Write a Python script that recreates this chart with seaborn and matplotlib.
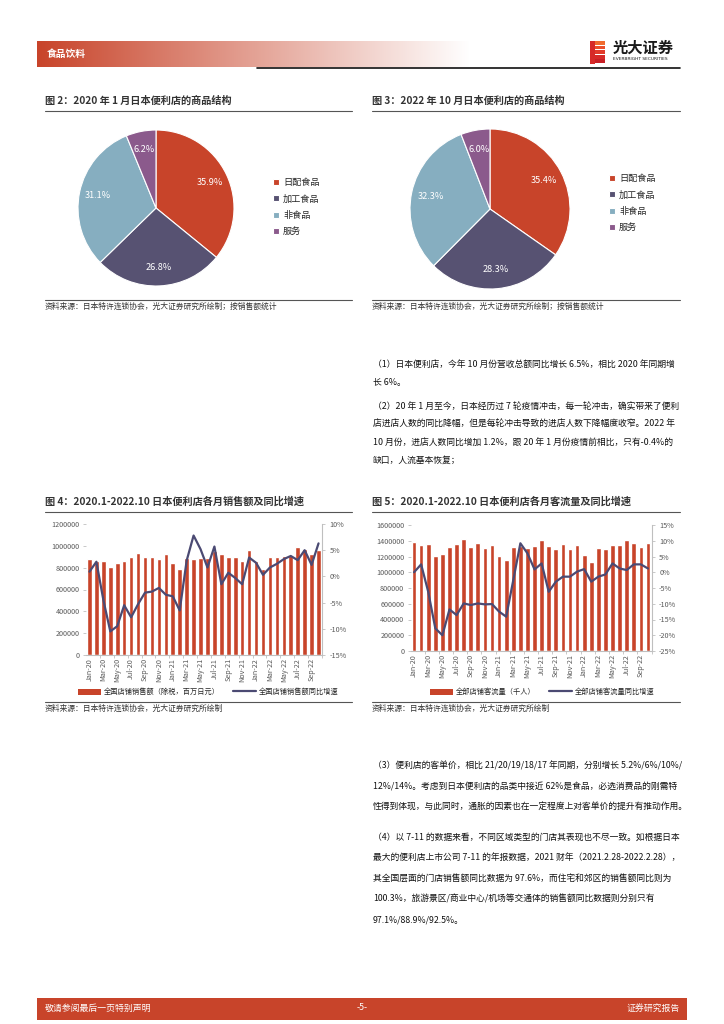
import matplotlib
matplotlib.use('Agg')
import matplotlib.pyplot as plt
import seaborn as sns
import numpy as np
import pandas as pd
from matplotlib.patches import Rectangle, Patch
from matplotlib.lines import Line2D

# ---- data -------------------------------------------------------------
pie_labels = ['日配食品', '加工食品', '非食品', '服务']
share_2020_01 = [35.9, 26.8, 31.1, 6.2]
share_2022_10 = [35.4, 28.3, 32.3, 6.0]

months = ['Jan-20', 'Feb-20', 'Mar-20', 'Apr-20', 'May-20', 'Jun-20', 'Jul-20', 'Aug-20',
          'Sep-20', 'Oct-20', 'Nov-20', 'Dec-20', 'Jan-21', 'Feb-21', 'Mar-21', 'Apr-21',
          'May-21', 'Jun-21', 'Jul-21', 'Aug-21', 'Sep-21', 'Oct-21', 'Nov-21', 'Dec-21',
          'Jan-22', 'Feb-22', 'Mar-22', 'Apr-22', 'May-22', 'Jun-22', 'Jul-22', 'Aug-22',
          'Sep-22', 'Oct-22']

# 全国店铺销售额（百万日元）
sales = [880000, 860000, 865000, 810000, 840000, 865000, 900000, 935000,
         895000, 900000, 880000, 925000, 840000, 790000, 885000, 875000,
         885000, 885000, 950000, 925000, 900000, 900000, 865000, 965000,
         865000, 790000, 900000, 895000, 910000, 918000, 985000, 975000,
         925000, 958000]
# 销售额同比增速（%）
sales_yoy = [0.9, 2.8, -4.5, -10.5, -9.5, -5.5, -7.8, -5.3,
             -3.1, -2.9, -2.2, -3.5, -3.8, -6.5, 3.0, 7.8,
             5.2, 1.7, 5.7, -1.5, 0.7, -0.3, -1.5, 3.6,
             2.6, 0.3, 1.7, 2.4, 3.3, 3.9, 3.1, 5.0,
             2.2, 6.3]

# 全部店铺客流量（千人）
traffic = [1380000, 1346000, 1363000, 1202000, 1228000, 1325000, 1363000, 1422000,
           1325000, 1371000, 1308000, 1346000, 1202000, 1160000, 1325000, 1338000,
           1304000, 1333000, 1405000, 1333000, 1290000, 1359000, 1300000, 1346000,
           1219000, 1126000, 1308000, 1300000, 1342000, 1346000, 1410000, 1371000,
           1325000, 1371000]
# 客流量同比增速（%）
traffic_yoy = [0.0, 2.5, -6.2, -17.8, -20.0, -11.8, -13.6, -9.9,
               -10.4, -9.9, -10.2, -10.1, -12.5, -14.1, -2.5, 9.2,
               6.0, 0.9, 2.8, -6.2, -3.0, -1.4, -1.4, 0.2,
               1.0, -3.0, -1.4, -0.7, 2.8, 1.2, 0.7, 2.5,
               2.5, 1.2]

# ---- style ------------------------------------------------------------
sns.set_theme(style='white')
plt.rcParams['font.family'] = ['Noto Sans CJK SC', 'DejaVu Sans']
plt.rcParams['axes.unicode_minus'] = False

W, H = 724, 1024
RED = '#C8442A'
NAVY = '#4B4A73'
PIE_COLORS = ['#C8442A', '#575272', '#86AEC0', '#8B5A8C']
GRAY = '#595959'
LIGHT = '#BFBFBF'

fig = plt.figure(figsize=(W / 100, H / 100), dpi=100)


def box(x, y, w, h):
    # pixel box measured from the top-left of the page
    return [x / W, 1 - (y + h) / H, w / W, h / H]


def txt(x, y, s, **kw):
    kw.setdefault('va', 'center')
    fig.text(x / W, 1 - y / H, s, **kw)


def hline(x0, x1, y, color='#404040', lw=0.8):
    fig.add_artist(Line2D([x0 / W, x1 / W], [1 - y / H] * 2, color=color, lw=lw))


# ---- header -----------------------------------------------------------
hax = fig.add_axes(box(37, 41, 433, 26))
base = np.array(matplotlib.colors.to_rgb(RED))
t = np.linspace(0, 1, 400)[None, :, None]
grad = base * (1 - t) + t
hax.imshow(grad, aspect='auto', extent=[0, 1, 0, 1])
hax.axis('off')
txt(47, 54, '食品饮料', color='white', fontsize=7, fontweight='bold')
hline(257, 680, 68, color='#111111', lw=1.2)

# logo
for i, c in enumerate(['#F06A2E', '#EB4F2B', '#E23A2A', '#D62A28', '#C81F25']):
    fig.add_artist(Rectangle((590 / W, 1 - (41 + i * 4.6 + 3.8) / H), 15 / W, 3.8 / H,
                             transform=fig.transFigure, color=c, lw=0))
fig.add_artist(Rectangle((590 / W, 1 - 64 / H), 5 / W, 23 / H,
                         transform=fig.transFigure, color='#D62A28', lw=0))
txt(613, 48, '光大证券', fontsize=11, fontweight='bold', color='#1a1a1a')
txt(613, 59.5, 'EVERBRIGHT SECURITIES', fontsize=3.2, color='#1a1a1a', family=['DejaVu Sans'])


# ---- figure titles / sources -----------------------------------------
def frame(x0, x1, y_title, y_bottom, title, source):
    txt(x0, y_title, title, fontsize=7.3, fontweight='bold', color='#333333')
    hline(x0, x1, y_title + 10, color='#555555', lw=0.8)
    hline(x0, x1, y_bottom, color='#555555', lw=0.8)
    txt(x0, y_bottom + 7, source, fontsize=5.6, color='#333333')


frame(45, 352, 101, 300, '图 2：2020 年 1 月日本便利店的商品结构',
      '资料来源：日本特许连锁协会，光大证券研究所绘制；按销售额统计')
frame(372, 680, 101, 300, '图 3：2022 年 10 月日本便利店的商品结构',
      '资料来源：日本特许连锁协会，光大证券研究所绘制；按销售额统计')
frame(45, 352, 502, 702, '图 4：2020.1-2022.10 日本便利店各月销售额及同比增速',
      '资料来源：日本特许连锁协会，光大证券研究所绘制')
frame(372, 680, 502, 702, '图 5：2020.1-2022.10 日本便利店各月客流量及同比增速',
      '资料来源：日本特许连锁协会，光大证券研究所绘制')


# ---- pies -------------------------------------------------------------
def draw_pie(rect, values, legend_xy):
    ax = fig.add_axes(box(*rect))
    it = iter(values)
    wedges, _, autotexts = ax.pie(
        values, colors=PIE_COLORS, startangle=90, counterclock=False,
        autopct=lambda p: f'{next(it):.1f}%', pctdistance=0.76,
        textprops=dict(color='white', fontsize=6.6),
        wedgeprops=dict(edgecolor='white', linewidth=0.8))
    ax.set_xlim(-1, 1)
    ax.set_ylim(-1, 1)
    ax.set_aspect('equal')
    ax.legend(wedges, pie_labels, loc='upper left',
              bbox_to_anchor=(legend_xy[0] / W, 1 - legend_xy[1] / H),
              bbox_transform=fig.transFigure, frameon=False, fontsize=6.6,
              handlelength=0.6, handleheight=0.6, labelspacing=0.8,
              handletextpad=0.5, borderpad=0, borderaxespad=0)


draw_pie((78, 130, 156, 156), share_2020_01, (273, 178))
draw_pie((410, 129, 160, 160), share_2022_10, (609, 174))


# ---- bar + line combos ------------------------------------------------
def draw_combo(rect, values, yoy, ymax, rlim, labels, leg_x):
    ax = fig.add_axes(box(*rect))
    df = pd.DataFrame({'month': months, 'value': values, 'yoy': yoy})
    sns.barplot(data=df, x='month', y='value', color=RED, saturation=1,
                width=0.66, ax=ax)
    n = len(months)
    ax.set_xlim(-0.5, n - 0.5)
    ax.set_ylim(0, ymax)
    yt = np.arange(0, ymax + 1, 200000)
    ax.set_yticks(yt)
    ax.set_yticklabels([f'{v:d}' for v in yt])
    ax.set_xticks(range(0, n, 2))
    ax.set_xticklabels(months[::2], rotation=90)
    ax.set_xticks(np.arange(1.5, n, 2), minor=True)
    ax.set_xlabel('')
    ax.set_ylabel('')
    ax.tick_params(axis='y', labelsize=5.2, colors=LIGHT, labelcolor=GRAY,
                   length=2.5, width=0.6, left=True, pad=2)
    ax.tick_params(axis='x', which='major', labelsize=5.2, labelcolor=GRAY,
                   length=0, pad=2)
    ax.tick_params(axis='x', which='minor', length=2.5, width=0.6, colors=LIGHT,
                   bottom=True)
    for s in ['left', 'top', 'right']:
        ax.spines[s].set_visible(False)
    ax.spines['bottom'].set_color(LIGHT)
    ax.spines['bottom'].set_linewidth(0.8)

    ax2 = ax.twinx()
    sns.lineplot(x=np.arange(n), y=df['yoy'], color=NAVY, lw=1.6, ax=ax2)
    ax2.set_ylim(*rlim)
    rt = np.arange(rlim[0], rlim[1] + 1, 5)
    ax2.set_yticks(rt)
    ax2.set_yticklabels([f'{v:d}%' for v in rt])
    ax2.set_ylabel('')
    ax2.tick_params(axis='y', labelsize=5.2, colors=LIGHT, labelcolor=GRAY,
                    length=2.5, width=0.6, right=True, pad=3)
    for s in ['left', 'top', 'bottom']:
        ax2.spines[s].set_visible(False)
    ax2.spines['right'].set_color(LIGHT)
    ax2.spines['right'].set_linewidth(0.8)
    ax2.grid(False)
    ax.grid(False)

    handles = [Patch(facecolor=RED, edgecolor='none'),
               Line2D([0], [0], color=NAVY, lw=1.6)]
    ax.legend(handles, labels, loc='center left', ncol=2,
              bbox_to_anchor=(leg_x / W, 1 - 692 / H), bbox_transform=fig.transFigure,
              frameon=False, fontsize=5.2, handlelength=3.2, handleheight=0.9,
              handletextpad=0.4, columnspacing=1.8, borderpad=0, borderaxespad=0)


draw_combo((86, 524, 236, 131), sales, sales_yoy, 1200000, (-15, 10),
           ['全国店铺销售额（除税，百万日元）', '全国店铺销售额同比增速'], 78)
draw_combo((410.5, 525, 241, 126), traffic, traffic_yoy, 1600000, (-25, 15),
           ['全部店铺客流量（千人）', '全部店铺客流量同比增速'], 430)

# ---- body text --------------------------------------------------------
para_top = [
    (364, '（1）日本便利店，今年 10 月份营收总额同比增长 6.5%，相比 2020 年同期增'),
    (382, '长 6%。'),
    (406, '（2）20 年 1 月至今，日本经历过 7 轮疫情冲击，每一轮冲击，确实带来了便利'),
    (424, '店进店人数的同比降幅，但是每轮冲击导致的进店人数下降幅度收窄。2022 年'),
    (442, '10 月份，进店人数同比增加 1.2%，跟 20 年 1 月份疫情前相比，只有-0.4%的'),
    (460, '缺口，人流基本恢复；'),
]
para_bottom = [
    (766, '（3）便利店的客单价，相比 21/20/19/18/17 年同期，分别增长 5.2%/6%/10%/'),
    (786, '12%/14%。考虑到日本便利店的品类中接近 62%是食品，必选消费品的刚需特'),
    (807, '性得到体现，与此同时，通胀的因素也在一定程度上对客单价的提升有推动作用。'),
    (837, '（4）以 7-11 的数据来看，不同区域类型的门店其表现也不尽一致。如根据日本'),
    (857, '最大的便利店上市公司 7-11 的年报数据，2021 财年（2021.2.28-2022.2.28），'),
    (878, '其全国层面的门店销售额同比数据为 97.6%，而住宅和郊区的销售额同比则为'),
    (899, '100.3%，旅游景区/商业中心/机场等交通体的销售额同比数据则分别只有'),
    (920, '97.1%/88.9%/92.5%。'),
]
for y, s in para_top:
    txt(373, y, s, fontsize=6.35, color='#111111')
for y, s in para_bottom:
    txt(373, y, s, fontsize=6.3, color='#111111')

# ---- footer -----------------------------------------------------------
fig.add_artist(Rectangle((37 / W, 1 - 1020 / H), 650 / W, 22 / H,
                         transform=fig.transFigure, color=RED, lw=0))
txt(45, 1008, '敬请参阅最后一页特别声明', fontsize=6.4, color='white')
txt(362, 1008, '-5-', fontsize=6.4, color='white', ha='center')
txt(680, 1008, '证券研究报告', fontsize=6.4, color='white', ha='right')

fig.savefig('out.png', dpi=100)
